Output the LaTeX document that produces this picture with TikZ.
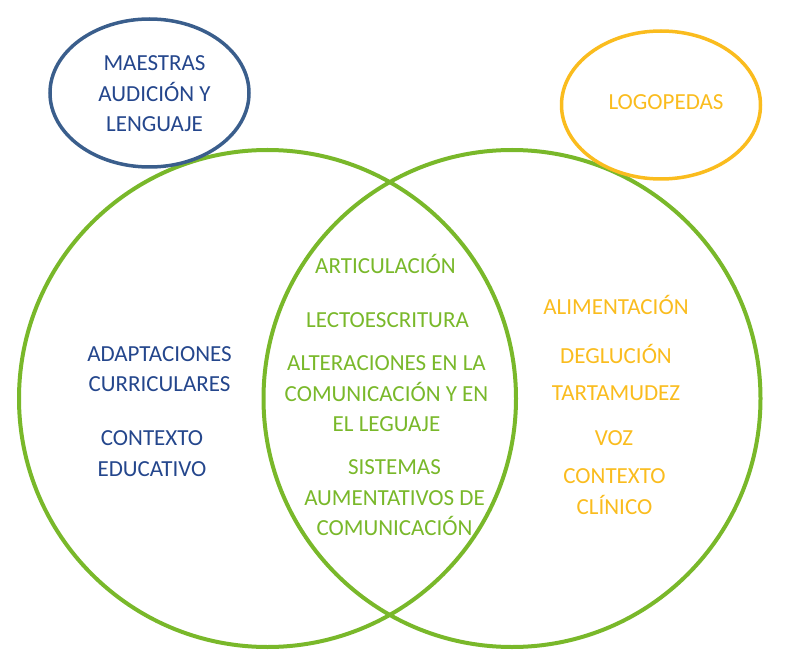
\documentclass[tikz,border=0pt]{standalone}
\usepackage{fontspec}
\setmainfont{Carlito}
\usepackage{tikz}
\usetikzlibrary{shapes.geometric,positioning}
\definecolor{vennGreen}{RGB}{121,184,42}
\definecolor{maestraBlue}{RGB}{58,94,140}
\definecolor{maestraText}{RGB}{36,70,140}
\definecolor{logoYellow}{RGB}{250,188,30}
\tikzstyle{ring} = [line width=4pt, vennGreen]
\tikzstyle{oval} = [ellipse, line width=3.5pt, minimum width=199pt, minimum height=148pt, inner sep=0pt]
\tikzstyle{txt} = [align=center, anchor=base, inner sep=0pt, font=\fontsize{23}{30.5}\selectfont]

\begin{document}
\begin{tikzpicture}[x=1pt,y=-1pt]
                    \useasboundingbox (0,0) rectangle (801,671);
                    % the two big circles
                    \draw[ring] (267.5,398.5) circle (248.5pt);
                    \draw[ring] (512,398.5) circle (248.5pt);
                    % the two groups (base = last line)
                    \node[oval, draw=maestraBlue] (maestrasOval) at (149.5,93) {};
                    \node[oval, draw=logoYellow] (logoOval) at (661,105) {};
                    \node[txt, maestraText] (maestras) at (154.5,131.7) {MAESTRAS\\AUDICIÓN Y\\LENGUAJE};
                    \node[txt, logoYellow] (logopedas) at (666,110) {LOGOPEDAS};
                    % left side
                    \node[txt, maestraText] (adaptaciones) at (159.5,391.7) {ADAPTACIONES\\CURRICULARES};
                    \node[txt, maestraText] (educativo) at (152,476) {CONTEXTO\\EDUCATIVO};
                    % shared part
                    \node[txt, vennGreen] (articulacion) at (385.5,274) {ARTICULACIÓN};
                    \node[txt, vennGreen] (lectoescritura) at (387.5,327.3) {LECTOESCRITURA};
                    \node[txt, vennGreen] (alteraciones) at (386.5,431.7) {ALTERACIONES EN LA\\COMUNICACIÓN Y EN\\EL LEGUAJE};
                    \node[txt, vennGreen] (sistemas) at (394.5,535.7) {SISTEMAS\\AUMENTATIVOS DE\\COMUNICACIÓN};
                    % right side
                    \node[txt, logoYellow] (alimentacion) at (616,315) {ALIMENTACIÓN};
                    \node[txt, logoYellow] (deglucion) at (616,363.3) {DEGLUCIÓN};
                    \node[txt, logoYellow] (tartamudez) at (616,400.7) {TARTAMUDEZ};
                    \node[txt, logoYellow] (voz) at (614,445) {VOZ};
                    \node[txt, logoYellow] (clinico) at (614.5,514.3) {CONTEXTO\\CLÍNICO};
                \end{tikzpicture}
\end{document}
